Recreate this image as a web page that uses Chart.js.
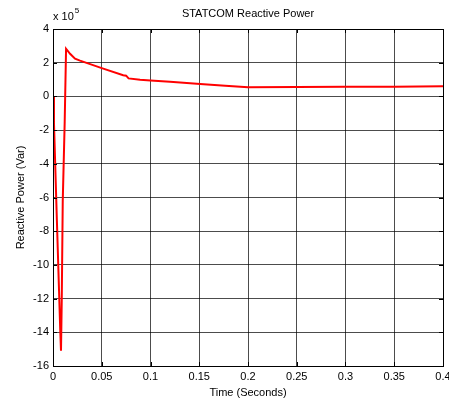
<!DOCTYPE html>
<html>
<head>
<meta charset="utf-8">
<script src="https://cdn.jsdelivr.net/npm/chart.js@4"></script>
<style>
  html, body { margin: 0; padding: 0; background: #fff; }
  #wrap { width: 449px; height: 402px; }
</style>
</head>
<body>
<div id="wrap"><canvas id="c" width="449" height="402"></canvas></div>
<script>
// STATCOM reactive power response (values in units of 1e5 Var)
const timeSeconds = [0, 0.0010, 0.0040, 0.0075, 0.0082, 0.0090, 0.0100, 0.0120, 0.0134,
  0.0175, 0.0226, 0.0277, 0.0500, 0.0720, 0.0750, 0.0775, 0.0893, 0.1000,
  0.1200, 0.1510, 0.1766, 0.2000, 0.2500, 0.3000, 0.3500, 0.4000];
const reactivePower = [0, -1.6, -7.4, -14.0, -15.1, -12.0, -6.2, -1.5, 2.83,
  2.53, 2.24, 2.12, 1.68, 1.26, 1.23, 1.07, 0.99, 0.95,
  0.87, 0.74, 0.63, 0.55, 0.56, 0.57, 0.58, 0.60];
const xTicks = [0, 0.05, 0.1, 0.15, 0.2, 0.25, 0.3, 0.35, 0.4];
const yTicks = [4, 2, 0, -2, -4, -6, -8, -10, -12, -14, -16];

const FONT = { family: '"Liberation Sans", Arial, sans-serif', size: 11 };
const gridStyle = { color: 'rgba(0,0,0,0.7)', lineWidth: 1, drawTicks: false };

// Full box frame, inward tick marks and the exponent note above the y axis
const framePlugin = {
  id: 'frame',
  afterDatasetsDraw(chart) {
    const { ctx, chartArea: a, scales } = chart;
    ctx.save();
    ctx.strokeStyle = '#000';
    ctx.lineWidth = 1;
    const tl = 4;
    ctx.beginPath();
    xTicks.forEach(v => {
      const x = Math.round(scales.x.getPixelForValue(v)) + 0.5;
      ctx.moveTo(x, a.bottom); ctx.lineTo(x, a.bottom - tl);
      ctx.moveTo(x, a.top); ctx.lineTo(x, a.top + tl);
    });
    yTicks.forEach(v => {
      const y = Math.round(scales.y.getPixelForValue(v)) + 0.5;
      ctx.moveTo(a.left, y); ctx.lineTo(a.left + tl, y);
      ctx.moveTo(a.right, y); ctx.lineTo(a.right - tl, y);
    });
    ctx.stroke();
    ctx.strokeRect(Math.round(a.left) + 0.5, Math.round(a.top) + 0.5,
      Math.round(a.right - a.left), Math.round(a.bottom - a.top));
    ctx.restore();
  },
  afterDraw(chart) {
    const { ctx, chartArea: a } = chart;
    ctx.save();
    ctx.fillStyle = '#000';
    ctx.textBaseline = 'alphabetic';
    ctx.textAlign = 'left';
    ctx.font = '11px "Liberation Sans", Arial, sans-serif';
    ctx.fillText('x 10', a.left, 20);
    const w = ctx.measureText('x 10').width;
    ctx.font = '8px "Liberation Sans", Arial, sans-serif';
    ctx.fillText('5', a.left + w + 1, 13);
    ctx.restore();
  }
};

new Chart(document.getElementById('c'), {
  type: 'line',
  data: {
    datasets: [{
      data: timeSeconds.map((t, i) => ({ x: t, y: reactivePower[i] })),
      borderColor: '#ff0000',
      borderWidth: 2,
      pointRadius: 0,
      tension: 0,
      fill: false
    }]
  },
  options: {
    responsive: false,
    animation: false,
    devicePixelRatio: 1,
    layout: { padding: { left: 0, right: 6, top: 0, bottom: 0 } },
    plugins: {
      legend: { display: false },
      tooltip: { enabled: false },
      title: {
        display: true,
        text: 'STATCOM Reactive Power',
        fullSize: false,
        color: '#000',
        font: { ...FONT, weight: 'normal' },
        padding: { top: 7.4, bottom: 8.4 }
      }
    },
    scales: {
      x: {
        type: 'linear',
        min: 0, max: 0.4,
        grid: { ...gridStyle, borderDash: [1, 1] },
        border: { display: true, color: '#000', width: 1 },
        afterBuildTicks(scale) { scale.ticks = xTicks.map(v => ({ value: v })); },
        afterFit(scale) { scale.height = 36; scale.paddingLeft = 0; scale.paddingRight = 0; },
        ticks: {
          color: '#000', font: FONT, padding: 4, maxRotation: 0, autoSkip: false,
          callback: v => String(v)
        },
        title: {
          display: true, text: 'Time (Seconds)', color: '#000', font: FONT,
          padding: { top: 0, bottom: 2.7 }
        }
      },
      y: {
        type: 'linear',
        min: -16, max: 4,
        grid: { ...gridStyle, borderDash: [1, 1] },
        border: { display: true, color: '#000', width: 1 },
        afterBuildTicks(scale) { scale.ticks = yTicks.map(v => ({ value: v })); },
        afterFit(scale) { scale.width = 53; },
        ticks: { color: '#000', font: FONT, padding: 4, autoSkip: false, callback: v => String(v) },
        title: {
          display: true, text: 'Reactive Power (Var)', color: '#000', font: FONT,
          padding: { top: 14, bottom: 0 }
        }
      }
    }
  },
  plugins: [framePlugin]
});
</script>
</body>
</html>
